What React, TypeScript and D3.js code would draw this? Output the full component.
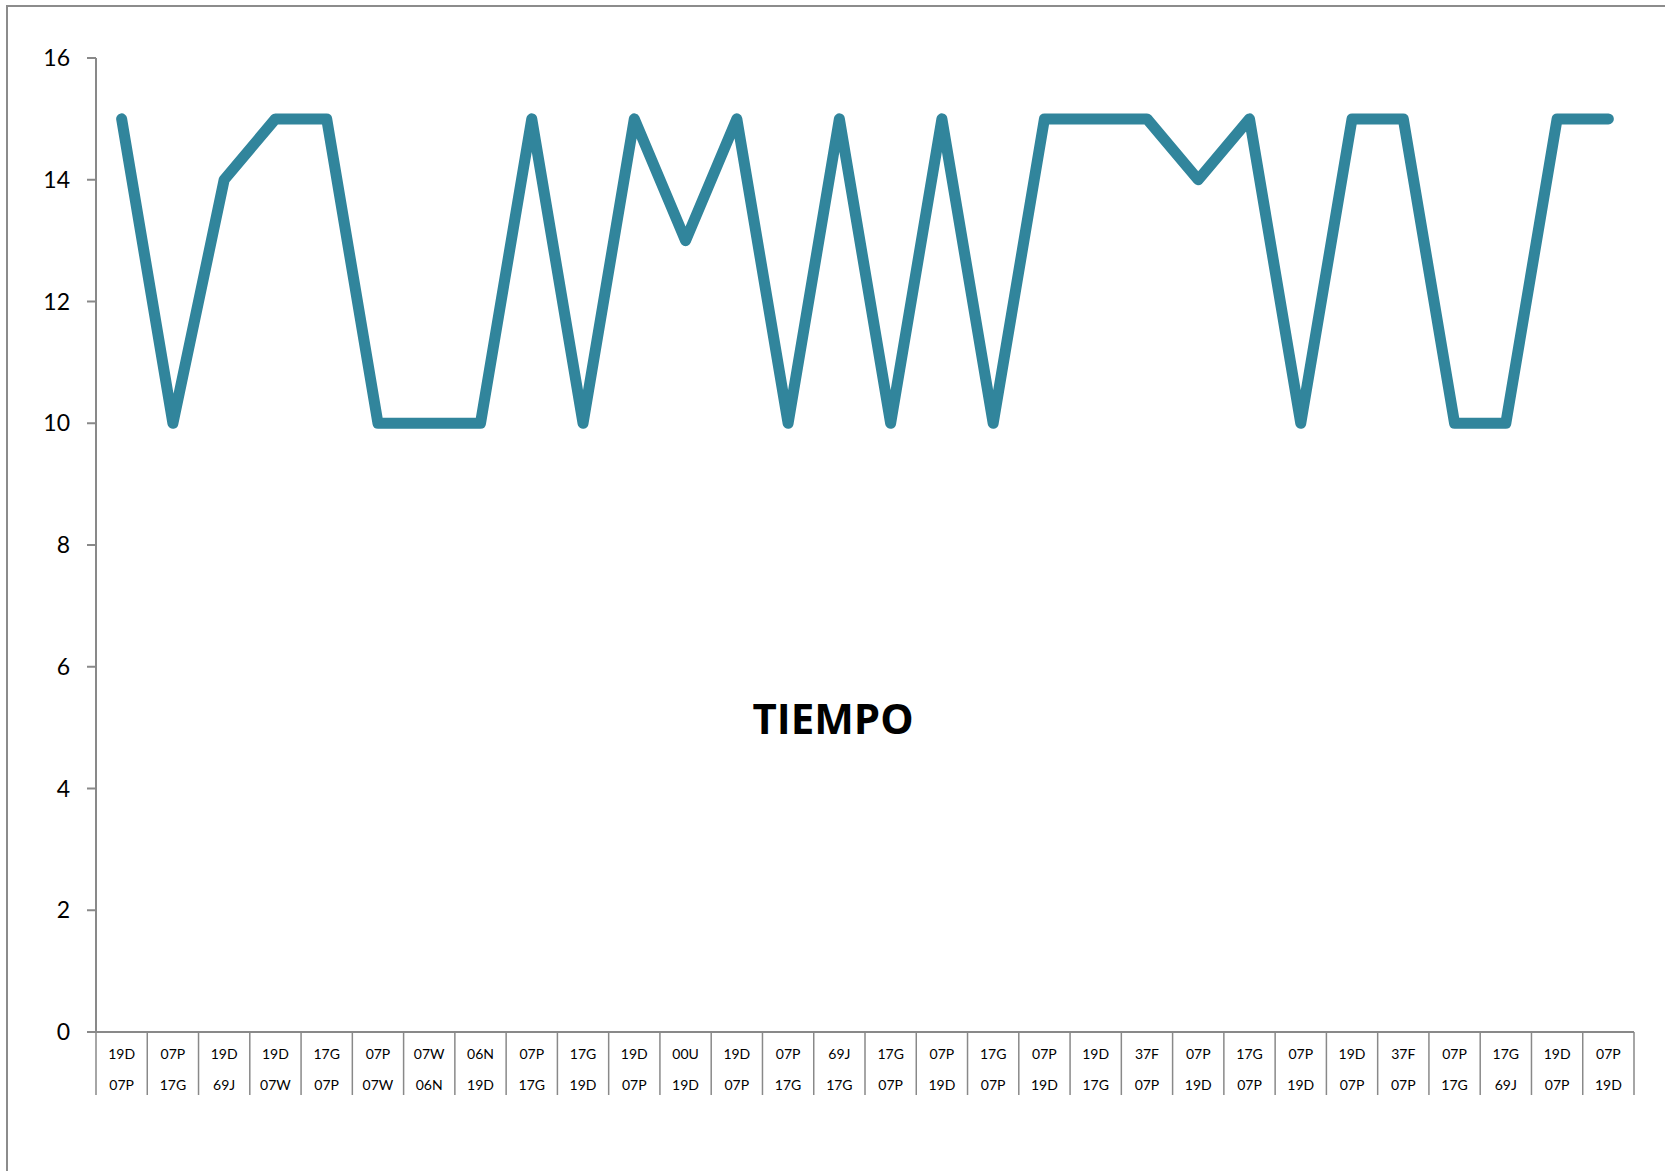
import React from "react";
import * as d3 from "d3";

const line1 = ["19D","07P","19D","19D","17G","07P","07W","06N","07P","17G","19D","00U","19D","07P","69J","17G","07P","17G","07P","19D","37F","07P","17G","07P","19D","37F","07P","17G","19D","07P"];
const line2 = ["07P","17G","69J","07W","07P","07W","06N","19D","17G","19D","07P","19D","07P","17G","17G","07P","19D","07P","19D","17G","07P","19D","07P","19D","07P","07P","17G","69J","07P","19D"];
const values = [15,10,14,15,15,10,10,10,15,10,15,13,15,10,15,10,15,10,15,15,15,14,15,10,15,15,10,10,15,15];
const yTicks = [0,2,4,6,8,10,12,14,16];
const title = "TIEMPO";

const W = 1665, H = 1171;
const left = 96, right = 1634, top = 58, bottom = 1032;
const font = "Lato, 'Open Sans', sans-serif";

export default function App() {
  const idx = values.map((_, i) => i);
  const x = d3.scaleBand<number>().domain(idx).range([left, right]).padding(0);
  const y = d3.scaleLinear().domain([0, 16]).range([bottom, top]);
  const path = d3.line<number>()
    .x((_, i) => (x(i) as number) + x.bandwidth() / 2)
    .y((d) => y(d))(values) as string;
  const axisColor = "#898989";
  return (
    <div style={{ position: "absolute", left: 0, top: 0 }}>
      <svg width={W} height={H} style={{ display: "block", background: "#fff" }}>
        <rect x={7} y={6} width={W + 20} height={H + 20} fill="#fff" stroke="#8c8c8c" strokeWidth={2} />
        {/* y axis */}
        <line x1={left} x2={left} y1={top} y2={bottom} stroke={axisColor} strokeWidth={2} />
        {yTicks.map((t) => (
          <g key={t}>
            <line x1={left - 9} x2={left} y1={y(t)} y2={y(t)} stroke={axisColor} strokeWidth={2} />
            <text x={left - 26} y={y(t)} dy="0.35em" textAnchor="end" fontFamily={font} fontSize={23} fill="#000">{t}</text>
          </g>
        ))}
        {/* x axis table */}
        <line x1={left} x2={right} y1={bottom} y2={bottom} stroke={axisColor} strokeWidth={2} />
        {d3.range(values.length + 1).map((i) => {
          const xx = i < values.length ? (x(i) as number) : right;
          return <line key={"s" + i} x1={xx} x2={xx} y1={bottom} y2={bottom + 63} stroke={axisColor} strokeWidth={1.5} />;
        })}
        {idx.map((i) => {
          const cx = (x(i) as number) + x.bandwidth() / 2;
          return (
            <g key={"l" + i}>
              <text x={cx} y={bottom + 22} dy="0.35em" textAnchor="middle" fontFamily={font} fontSize={14} fill="#000">{line1[i]}</text>
              <text x={cx} y={bottom + 53} dy="0.35em" textAnchor="middle" fontFamily={font} fontSize={14} fill="#000">{line2[i]}</text>
            </g>
          );
        })}
        <path d={path} fill="none" stroke="#31859C" strokeWidth={11} strokeLinejoin="round" strokeLinecap="round" />
        <text x={833} y={734} textAnchor="middle" fontFamily="'Open Sans', sans-serif" fontWeight="bold" fontSize={42} fill="#000">{title}</text>
      </svg>
    </div>
  );
}
